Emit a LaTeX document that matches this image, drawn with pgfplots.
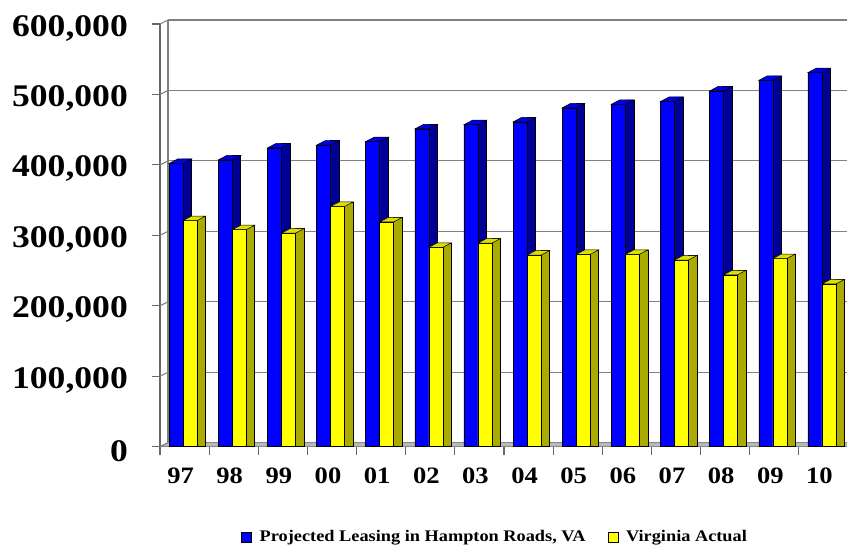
\documentclass[border=0pt]{standalone}
\usepackage{pgfplots}
\pgfplotsset{compat=1.18}
\usepackage{pgfplotstable}
\usepackage{fontspec}
\setmainfont{Liberation Serif}
\newfontfamily\chartfont[FakeStretch=1.13]{Liberation Serif}

\definecolor{barblue}{RGB}{0,0,255}
\definecolor{sideblue}{RGB}{0,0,150}
\definecolor{capblue}{RGB}{0,0,225}
\definecolor{baryellow}{RGB}{255,255,0}
\definecolor{sideyellow}{RGB}{170,170,0}
\definecolor{capyellow}{RGB}{222,222,0}
\definecolor{gridgray}{RGB}{128,128,128}

% leasing volumes per year (97 ... 10)
\pgfplotstableread{
i blue yellow
0 402000 321000
1 407000 308000
2 424000 303000
3 428000 341000
4 433000 319000
5 451000 283000
6 457000 289000
7 461000 272000
8 481000 273000
9 486000 273000
10 490000 265000
11 505000 244000
12 520000 267000
13 531000 231000
}\leasing

% top faces of the 3-D columns (origin = category centre, column top)
\pgfdeclareplotmark{capleft}{%
  \pgfpathmoveto{\pgfqpoint{-15.5pt}{0pt}}%
  \pgfpathlineto{\pgfqpoint{-1.5pt}{0pt}}%
  \pgfpathlineto{\pgfqpoint{7pt}{4.5pt}}%
  \pgfpathlineto{\pgfqpoint{-7pt}{4.5pt}}%
  \pgfpathclose
  \pgfusepathqfillstroke}
\pgfdeclareplotmark{capright}{%
  \pgfpathmoveto{\pgfqpoint{-1.5pt}{0pt}}%
  \pgfpathlineto{\pgfqpoint{12.5pt}{0pt}}%
  \pgfpathlineto{\pgfqpoint{21pt}{4.5pt}}%
  \pgfpathlineto{\pgfqpoint{7pt}{4.5pt}}%
  \pgfpathclose
  \pgfusepathqfillstroke}

\pgfplotsset{
  frame/.style={
    scale only axis, width=688pt, height=422.7pt,
    xmin=-0.5, xmax=13.5, ymin=0, ymax=600000,
    anchor=south west, scaled y ticks=false,
  },
}

\begin{document}
\begin{tikzpicture}[x=1pt,y=1pt]
\useasboundingbox (0,0) rectangle (847,546);

% back wall with gridlines
\begin{axis}[frame, at={(168pt,103.3pt)},
  axis x line=none, axis y line*=left,
  xtick=\empty, ytick={0,100000,...,600000}, yticklabels={},
  major tick length=0pt,
  ymajorgrids, grid style={gridgray, line width=1.2pt},
  axis line style={gridgray, line width=1.2pt}]
\end{axis}

% front axes, floor and columns
\begin{axis}[frame, at={(160pt,99.3pt)}, clip=false,
  axis x line*=bottom, axis y line*=left,
  axis line style={gridgray!80!black, line width=1.2pt},
  ytick={0,100000,...,600000},
  yticklabels={0,{100,000},{200,000},{300,000},{400,000},{500,000},{600,000}},
  xtick={0,...,13},
  xticklabels={97,98,99,00,01,02,03,04,05,06,07,08,09,10},
  minor xtick={-0.5,0.5,...,13.5},
  tick align=outside, major tick length=8pt, minor tick length=8pt,
  major x tick style={draw=none},
  minor x tick style={gridgray!80!black, line width=1.2pt},
  y tick style={gridgray!80!black, line width=1.2pt},
  yticklabel style={font=\chartfont\bfseries\fontsize{31.5}{31.5}\selectfont,
    inner sep=0pt, anchor=east, xshift=-24pt, yshift=-4pt},
  xticklabel style={font=\chartfont\bfseries\fontsize{23.5}{23.5}\selectfont,
    inner sep=0pt, anchor=north, xshift=-4pt, yshift=-13pt},
  legend style={at={(0.487,-0.2136)}, anchor=center, draw=none, fill=none,
    font=\chartfont\bfseries\fontsize{16.2}{16.2}\selectfont,
    legend columns=2, inner sep=0pt,
    /tikz/every even column/.append style={column sep=20pt}},
  legend image code/.code={\draw[#1,/tikz/.cd,draw=black,line width=0.6pt] (0pt,-5pt) rectangle (10pt,5pt); \path (16pt,0pt);},
]
% floor
\fill[gray!55, draw=gridgray] (axis cs:-0.5,0) -- (axis cs:13.5,0) -- ++(8pt,4pt) -- ++(-688pt,0pt) -- cycle;
% depth connectors between front axis and back wall
\pgfplotsinvokeforeach{0,100000,200000,300000,400000,500000,600000}{
  \draw[gridgray, line width=1.1pt] (axis cs:-0.5,#1) -- ++(8pt,4pt);
}

% projected leasing columns
\addplot[ybar, bar width=8.5pt, bar shift=2.75pt, fill=sideblue, draw=black, line width=0.5pt, forget plot]
  table[x=i, y expr=\thisrow{blue}+6400] {\leasing};
\addplot[ybar, bar width=14pt, bar shift=-8.5pt, fill=barblue, draw=black, line width=0.5pt]
  table[x=i, y=blue] {\leasing};
\addlegendentry{Projected Leasing in Hampton Roads, VA}
\addplot[only marks, mark=capleft, mark options={fill=capblue, draw=black, line width=0.5pt}, forget plot]
  table[x=i, y=blue] {\leasing};

% Virginia actual columns
\addplot[ybar, bar width=8.5pt, bar shift=16.75pt, fill=sideyellow, draw=black, line width=0.5pt, forget plot]
  table[x=i, y expr=\thisrow{yellow}+6400] {\leasing};
\addplot[ybar, bar width=14pt, bar shift=5.5pt, fill=baryellow, draw=black, line width=0.5pt]
  table[x=i, y=yellow] {\leasing};
\addlegendentry{Virginia Actual}
\addplot[only marks, mark=capright, mark options={fill=capyellow, draw=black, line width=0.5pt}, forget plot]
  table[x=i, y=yellow] {\leasing};
\end{axis}
\end{tikzpicture}
\end{document}
